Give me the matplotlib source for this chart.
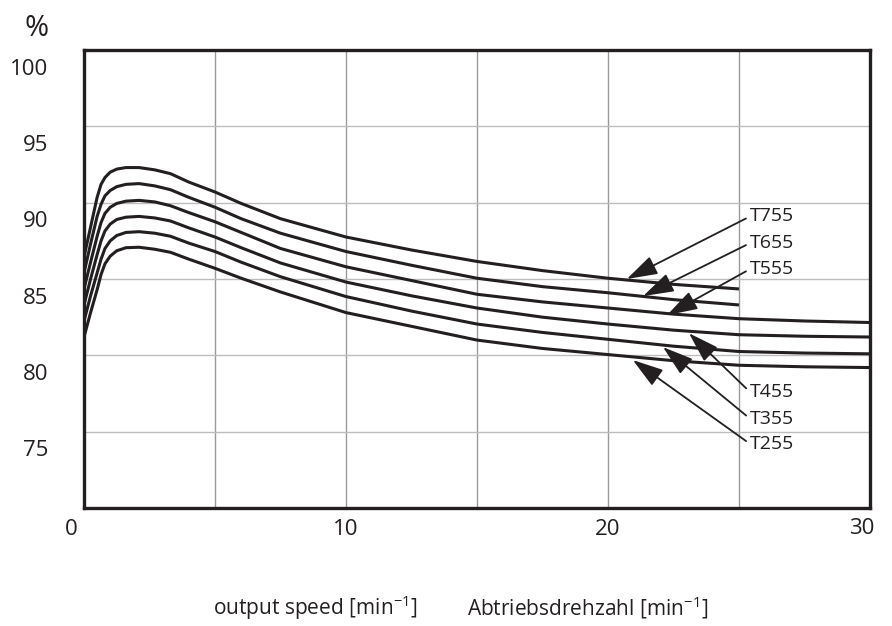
""" Efficiency over output speed, T255 ... T755
"""

import matplotlib
matplotlib.use('Agg')
import matplotlib.pyplot as plt
from matplotlib.transforms import ScaledTranslation

plt.rcParams['font.family'] = ['Open Sans', 'DejaVu Sans']
plt.rcParams['mathtext.fontset'] = 'custom'
plt.rcParams['mathtext.rm'] = 'Open Sans'

# output speed [min^-1]
speed = [0, 0.25, 0.5, 0.65, 0.8, 1.0, 1.25, 1.6, 2.1, 2.7, 3.3, 4, 5, 6,
         7.5, 10, 12.5, 15, 17.5, 20, 22.5, 25, 27.5, 30]

# efficiency [%], the two largest sizes stop at 25 min^-1
eff_t755 = [86.45, 88.4, 90.35, 91.2, 91.65, 92.0, 92.2, 92.3, 92.3, 92.15,
            91.9, 91.35, 90.7, 89.95, 88.95, 87.75, 86.9, 86.15, 85.55,
            85.05, 84.65, 84.35]
eff_t655 = [85.4, 87.3, 89.1, 89.9, 90.45, 90.8, 91.05, 91.2, 91.25, 91.1,
            90.85, 90.35, 89.7, 88.95, 88.0, 86.8, 85.9, 85.05, 84.5,
            84.1, 83.65, 83.3]
eff_t555 = [84.35, 86.1, 87.8, 88.7, 89.3, 89.7, 89.95, 90.1, 90.15, 90.05,
            89.8, 89.35, 88.75, 88.05, 87.0, 85.8, 84.9, 84.0, 83.5,
            83.1, 82.7, 82.4, 82.25, 82.15]
eff_t455 = [83.3, 85.0, 86.6, 87.5, 88.15, 88.6, 88.9, 89.05, 89.1, 89.0,
            88.8, 88.35, 87.75, 87.05, 86.05, 84.8, 83.9, 83.1, 82.5,
            82.05, 81.65, 81.35, 81.25, 81.2]
eff_t355 = [82.25, 83.9, 85.4, 86.3, 87.0, 87.5, 87.85, 88.05, 88.1, 88.0,
            87.8, 87.35, 86.8, 86.1, 85.15, 83.85, 82.9, 82.05, 81.5,
            81.05, 80.6, 80.25, 80.15, 80.1]
eff_t255 = [81.2, 82.8, 84.3, 85.3, 86.0, 86.5, 86.85, 87.05, 87.08, 86.95,
            86.75, 86.3, 85.7, 85.05, 84.15, 82.8, 81.9, 81.0, 80.45,
            80.05, 79.65, 79.35, 79.25, 79.2]

series = [eff_t755, eff_t655, eff_t555, eff_t455, eff_t355, eff_t255]
labels = ['T755', 'T655', 'T555', 'T455', 'T355', 'T255']

# label anchor (left-middle of text) and arrow tip on the curve
label_pos = [(25.42, 89.1), (25.42, 87.35), (25.42, 85.65),
             (25.42, 77.6), (25.42, 75.85), (25.42, 74.2)]
arrow_tip = [(20.72, 85.0), (21.34, 83.88), (22.25, 82.63),
             (23.09, 81.45), (22.1, 80.54), (20.95, 79.69)]

y_ticks = [70, 75, 80, 85, 90, 95, 100]
y_labels = ['', '75', '80', '85', '90', '95', '100']
x_ticks = [0, 5, 10, 15, 20, 25, 30]
x_labels = ['0', '', '10', '', '20', '', '30']

ink = '#231f20'

fig = plt.figure(figsize=(8.92, 6.26), dpi=100)
ax = fig.add_axes([0.0942, 0.1885, 0.8811, 0.7316])

for vals in series:
    ax.plot(speed[:len(vals)], vals, color=ink, lw=2.2,
            solid_capstyle='butt', solid_joinstyle='round', zorder=3)

for lab, (tx, ty), (hx, hy) in zip(labels, label_pos, arrow_tip):
    ax.annotate(
        lab, xy=(hx, hy), xytext=(tx, ty), ha='left', va='center',
        fontsize=14, color=ink, zorder=4,
        arrowprops=dict(
            arrowstyle='-|>,head_length=0.95,head_width=0.3',
            mutation_scale=20, color=ink, lw=1.3,
            shrinkA=1, shrinkB=0, relpos=(0, 0.5)
        )
    )

ax.set_xlim(0, 30)
ax.set_ylim(70, 100)
ax.set_xticks(x_ticks)
ax.set_xticklabels(x_labels)
ax.set_yticks(y_ticks)
ax.set_yticklabels(y_labels)
ax.tick_params(length=0, labelsize=16, labelcolor=ink)
ax.tick_params(axis='y', pad=26)
ax.tick_params(axis='x', pad=8)
for lbl in ax.get_yticklabels():
    lbl.set_transform(lbl.get_transform()
                      + ScaledTranslation(0, -12 / 72, fig.dpi_scale_trans))
xl = ax.get_xticklabels()
xl[0].set_transform(xl[0].get_transform()
                    + ScaledTranslation(-9 / 72, 0, fig.dpi_scale_trans))
xl[-1].set_transform(xl[-1].get_transform()
                     + ScaledTranslation(-6 / 72, 1 / 72, fig.dpi_scale_trans))

ax.grid(axis='x', color='#9a9a9a', lw=1.0)
ax.grid(axis='y', color='#bdbdbd', lw=1.0)
ax.set_axisbelow(True)
for sp in ax.spines.values():
    sp.set_color(ink)
    sp.set_linewidth(2.4)

fig.text(0.0415, 0.955, '%', fontsize=21, color=ink,
         ha='center', va='center')
fig.text(0.239, 0.03, 'output speed [min$^{\\mathregular{-1}}$]',
         fontsize=15, color=ink, ha='left', va='center')
fig.text(0.5235, 0.03, 'Abtriebsdrehzahl [min$^{\\mathregular{-1}}$]',
         fontsize=15, color=ink, ha='left', va='center')

plt.savefig('out.png', dpi=100)
